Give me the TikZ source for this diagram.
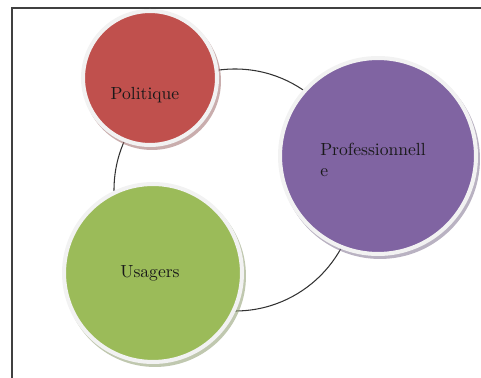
\documentclass[tikz,border=0pt]{standalone}
\usetikzlibrary{positioning}

\definecolor{polred}{HTML}{C0504D}
\definecolor{propurple}{HTML}{8064A2}
\definecolor{usagreen}{HTML}{9BBB59}
\definecolor{rimgray}{HTML}{F2F2F2}

\begin{document}
\begin{tikzpicture}[x=0.02cm, y=-0.02cm,
	bubble/.style={circle, fill=#1, draw=rimgray, line width=2.3pt, inner sep=0pt},
	shade/.style={circle, fill=#1!45!gray, opacity=0.55, inner sep=0pt},
	word/.style={font=\normalsize, text=black!90, inner sep=0pt}]

\path [use as bounding box] (0,0) rectangle (481,378);

% FRAME
\draw [line width=0.8pt, black!75] (12,378) -- (12,8) -- (481,8);

% RING
\coordinate (hub) at (235,190);
\draw [line width=0.6pt, black!80] (hub) circle [radius=121];

% SHADOWS
\node [shade=polred, minimum size=2.76cm] at (152,81) {};
\node [shade=propurple, minimum size=4cm] at (380,159) {};
\node [shade=usagreen, minimum size=3.64cm] at (155,276) {};

% BUBBLES
\node [bubble=polred, minimum size=2.68cm] (pol) at (150,78) {};
\node [bubble=propurple, minimum size=3.92cm] (pro) at (378,156) {};
\node [bubble=usagreen, minimum size=3.56cm] (usa) at (153,273) {};

% TEXTS
\node [word] (pol-txt) at ([xshift=-0.1cm, yshift=-0.34cm] pol.center) {Politique};
\node [word, align=left] (pro-txt) at ([xshift=-0.1cm, yshift=-0.08cm] pro.center) {Professionnell\\e};
\node [word] (usa-txt) at ([xshift=-0.06cm] usa.center) {Usagers};

\end{tikzpicture}
\end{document}
